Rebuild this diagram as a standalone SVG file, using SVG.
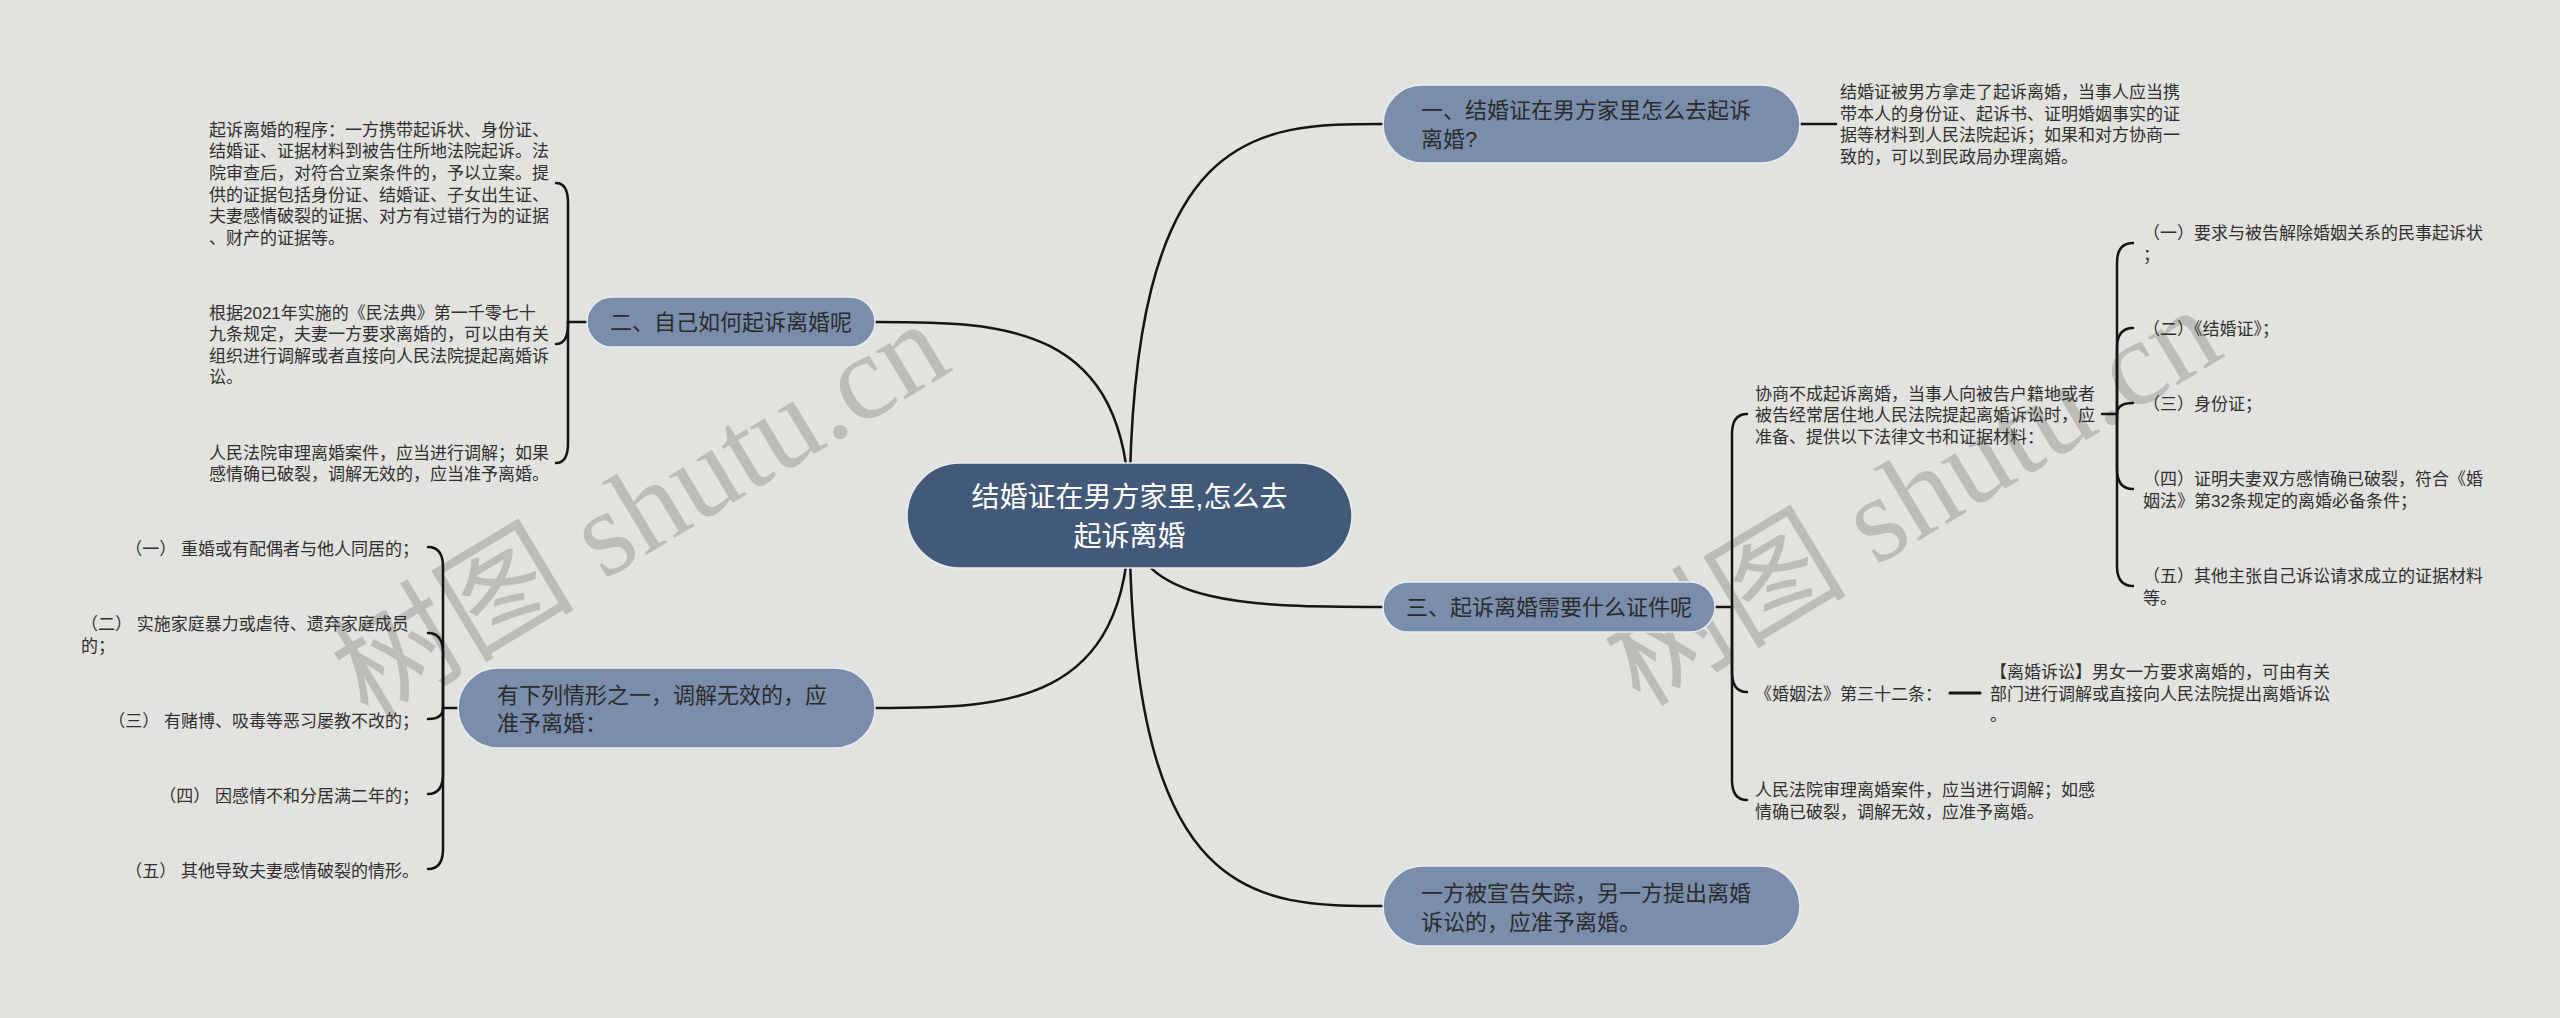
<svg xmlns="http://www.w3.org/2000/svg" width="2560" height="1018" viewBox="0 0 2560 1018">
<style>
.bg{fill:#e2e2de}
.wm{font-family:"Liberation Serif","Noto Sans CJK SC",serif;font-size:122px;fill:#bcbcb8}
.root{fill:#425a78;stroke:#e8edf3;stroke-width:1.5}
.sub{fill:#7a8eac;stroke:#e8edf3;stroke-width:1.5}
.rt{font-family:"Liberation Sans","Noto Sans CJK SC",sans-serif;font-size:28px;fill:#ffffff;text-anchor:middle}
.st{font-family:"Liberation Sans","Noto Sans CJK SC",sans-serif;font-size:22px;fill:#2b2b2b}
.c{text-anchor:middle}
.d{font-family:"Liberation Sans","Noto Sans CJK SC",sans-serif;font-size:17px;fill:#303030}
.e{text-anchor:end}
.ln{fill:none;stroke:#141414;stroke-width:2.5;stroke-linecap:round}
</style>
<rect class="bg" x="0" y="0" width="2560" height="1018"/>
<g id="watermark">
<text class="wm" x="368" y="722" transform="rotate(-31 368 722)">树图 shutu.cn</text>
<text class="wm" x="1640" y="708" transform="rotate(-31 1640 708)">树图 shutu.cn</text>
</g>
<g id="connectors">
<path class="ln" d="M1129.5,515.5 C1129.5,124 1256.3,124 1383,124"/>
<path class="ln" d="M1129.5,515.5 C1129.5,322 1002.3,322 875,322"/>
<path class="ln" d="M1129.5,515.5 C1129.5,607 1256.3,607 1383,607"/>
<path class="ln" d="M1129.5,515.5 C1129.5,708 1002.3,708 875,708"/>
<path class="ln" d="M1129.5,515.5 C1129.5,906 1256.3,906 1383,906"/>
<path class="ln" d="M1800,124 H1836"/>
<path class="ln" d="M587,322 H568"/>
<path class="ln" d="M568,322 V203 Q568,183 556,183"/>
<path class="ln" d="M568,322 V324 Q568,344 556,344"/>
<path class="ln" d="M568,322 V443 Q568,463 556,463"/>
<path class="ln" d="M458,708 H443"/>
<path class="ln" d="M443,708 V567 Q443,547 428,547"/>
<path class="ln" d="M443,708 V653 Q443,633 428,633"/>
<path class="ln" d="M443,708 Q443,719 428,719"/>
<path class="ln" d="M443,708 V774 Q443,794 428,794"/>
<path class="ln" d="M443,708 V849 Q443,869 428,869"/>
<path class="ln" d="M1715,607 H1732"/>
<path class="ln" d="M1732,607 V434 Q1732,414 1747,414"/>
<path class="ln" d="M1732,607 V672 Q1732,692 1747,692"/>
<path class="ln" d="M1732,607 V780 Q1732,800 1747,800"/>
<path class="ln" d="M1950,693 H1980" style="stroke-width:3.2"/>
<path class="ln" d="M2102,414 H2117"/>
<path class="ln" d="M2117,414 V263 Q2117,243 2133,243"/>
<path class="ln" d="M2117,414 V348 Q2117,328 2133,328"/>
<path class="ln" d="M2117,414 Q2117,403 2133,403"/>
<path class="ln" d="M2117,414 V469 Q2117,489 2133,489"/>
<path class="ln" d="M2117,414 V566 Q2117,586 2133,586"/>
</g>
<g id="root">
<rect class="root" x="907" y="463" width="445" height="105" rx="52.5"/>
<text class="rt"><tspan x="1129.5" y="506.6">结婚证在男方家里,怎么去</tspan><tspan x="1129.5" y="545.6">起诉离婚</tspan></text>
</g>
<g id="node1">
<rect class="sub" x="1383" y="85" width="417" height="78" rx="39"/>
<text class="st"><tspan x="1421" y="117.9">一、结婚证在男方家里怎么去起诉</tspan><tspan x="1421" y="146.9">离婚?</tspan></text>
</g>
<g id="node1-detail">
<text class="d"><tspan x="1840" y="98.1">结婚证被男方拿走了起诉离婚，当事人应当携</tspan><tspan x="1840" y="119.7">带本人的身份证、起诉书、证明婚姻事实的证</tspan><tspan x="1840" y="141.3">据等材料到人民法院起诉；如果和对方协商一</tspan><tspan x="1840" y="162.9">致的，可以到民政局办理离婚。</tspan></text>
</g>
<g id="node2">
<rect class="sub" x="587" y="297" width="288" height="50" rx="25"/>
<text class="st c" x="731" y="330.4">二、自己如何起诉离婚呢</text>
</g>
<g id="node2-detail1">
<text class="d"><tspan x="209" y="135.8">起诉离婚的程序：一方携带起诉状、身份证、</tspan><tspan x="209" y="157.4">结婚证、证据材料到被告住所地法院起诉。法</tspan><tspan x="209" y="179">院审查后，对符合立案条件的，予以立案。提</tspan><tspan x="209" y="200.6">供的证据包括身份证、结婚证、子女出生证、</tspan><tspan x="209" y="222.2">夫妻感情破裂的证据、对方有过错行为的证据</tspan><tspan x="209" y="243.8">、财产的证据等。</tspan></text>
</g>
<g id="node2-detail2">
<text class="d"><tspan x="209" y="318.5">根据2021年实施的《民法典》第一千零七十</tspan><tspan x="209" y="340.1">九条规定，夫妻一方要求离婚的，可以由有关</tspan><tspan x="209" y="361.7">组织进行调解或者直接向人民法院提起离婚诉</tspan><tspan x="209" y="383.3">讼。</tspan></text>
</g>
<g id="node2-detail3">
<text class="d"><tspan x="209" y="458.5">人民法院审理离婚案件，应当进行调解；如果</tspan><tspan x="209" y="480.1">感情确已破裂，调解无效的，应当准予离婚。</tspan></text>
</g>
<g id="node4">
<rect class="sub" x="458" y="668" width="417" height="80" rx="40"/>
<text class="st"><tspan x="497" y="703.4">有下列情形之一，调解无效的，应</tspan><tspan x="497" y="731.4">准予离婚：</tspan></text>
</g>
<g id="node4-item1"><text class="d e" x="419" y="554.5">（一） 重婚或有配偶者与他人同居的；</text></g>
<g id="node4-item2"><text class="d"><tspan x="81" y="629.5">（二） 实施家庭暴力或虐待、遗弃家庭成员</tspan><tspan x="81" y="651.5">的；</tspan></text></g>
<g id="node4-item3"><text class="d e" x="419" y="726.5">（三） 有赌博、吸毒等恶习屡教不改的；</text></g>
<g id="node4-item4"><text class="d e" x="419" y="801.5">（四） 因感情不和分居满二年的；</text></g>
<g id="node4-item5"><text class="d e" x="419" y="876.5">（五） 其他导致夫妻感情破裂的情形。</text></g>
<g id="node3">
<rect class="sub" x="1383" y="582" width="332" height="50" rx="25"/>
<text class="st c" x="1549" y="615.4">三、起诉离婚需要什么证件呢</text>
</g>
<g id="node3-detail1">
<text class="d"><tspan x="1755" y="399.5">协商不成起诉离婚，当事人向被告户籍地或者</tspan><tspan x="1755" y="421">被告经常居住地人民法院提起离婚诉讼时，应</tspan><tspan x="1755" y="442.5">准备、提供以下法律文书和证据材料：</tspan></text>
</g>
<g id="node3-sub1"><text class="d"><tspan x="2143" y="238.5">（一）要求与被告解除婚姻关系的民事起诉状</tspan><tspan x="2143" y="261">；</tspan></text></g>
<g id="node3-sub2"><text class="d" x="2143" y="334.5">（二）《结婚证》；</text></g>
<g id="node3-sub3"><text class="d" x="2143" y="409.5">（三）身份证；</text></g>
<g id="node3-sub4"><text class="d"><tspan x="2143" y="484.5">（四）证明夫妻双方感情确已破裂，符合《婚</tspan><tspan x="2143" y="506.5">姻法》第32条规定的离婚必备条件；</tspan></text></g>
<g id="node3-sub5"><text class="d"><tspan x="2143" y="581.5">（五）其他主张自己诉讼请求成立的证据材料</tspan><tspan x="2143" y="603.5">等。</tspan></text></g>
<g id="node3-detail2">
<text class="d" x="1755" y="699.5">《婚姻法》第三十二条：</text>
</g>
<g id="node3-detail2-sub">
<text class="d"><tspan x="1990" y="677.9">【离婚诉讼】男女一方要求离婚的，可由有关</tspan><tspan x="1990" y="699.5">部门进行调解或直接向人民法院提出离婚诉讼</tspan><tspan x="1990" y="721.1">。</tspan></text>
</g>
<g id="node3-detail3">
<text class="d"><tspan x="1755" y="795.5">人民法院审理离婚案件，应当进行调解；如感</tspan><tspan x="1755" y="817.5">情确已破裂，调解无效，应准予离婚。</tspan></text>
</g>
<g id="node5">
<rect class="sub" x="1383" y="866" width="417" height="80" rx="40"/>
<text class="st"><tspan x="1421" y="901.4">一方被宣告失踪，另一方提出离婚</tspan><tspan x="1421" y="930.4">诉讼的，应准予离婚。</tspan></text>
</g>
</svg>
